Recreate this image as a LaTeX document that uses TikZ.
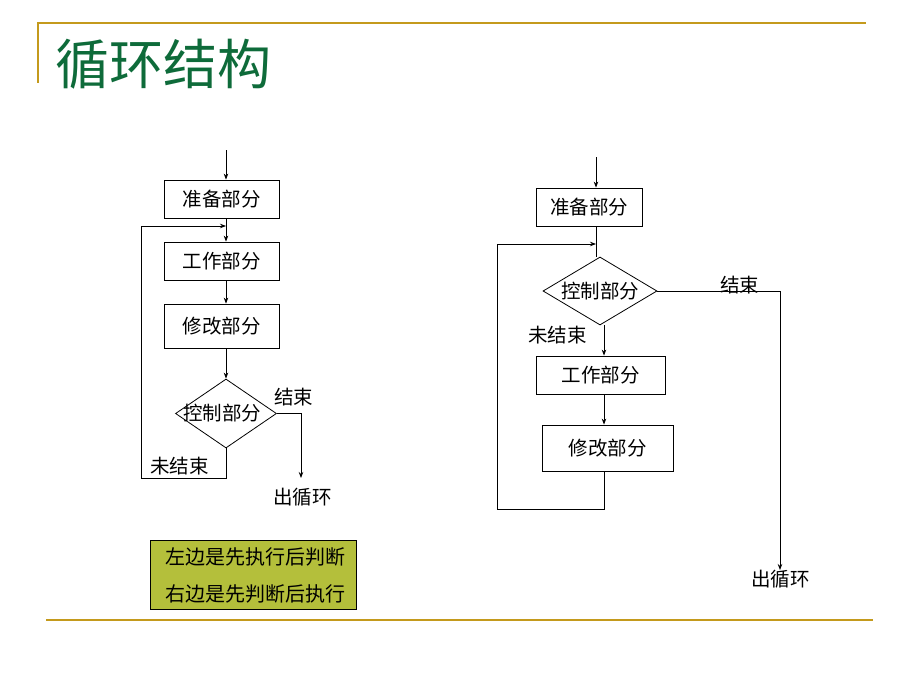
\documentclass[tikz,border=0pt]{standalone}
\usepackage{fontspec}
\setmainfont{Liberation Sans}
\newfontfamily\cjk{Noto Sans CJK SC}
\usetikzlibrary{shapes.geometric,arrows.meta}
\definecolor{gold}{HTML}{C49A1C}
\definecolor{titlegreen}{HTML}{0E6B3A}
\definecolor{olive}{HTML}{B4BF3B}
\tikzset{
  box/.style={draw=black, line width=0.8pt, fill=white, minimum height=38pt, inner sep=0pt, font=\cjk\fontsize{19.5}{22}\selectfont},
  dia/.style={draw=black, line width=0.8pt, diamond, inner sep=0pt, minimum width=101pt, minimum height=69pt},
  lbl/.style={font=\cjk\fontsize{19.5}{22}\selectfont, inner sep=0pt},
  ln/.style={line width=0.8pt},
  arr/.style={line width=0.8pt, -{Stealth[length=6pt,width=4.5pt]}},
  rule/.style={draw=gold, line width=2pt},
}
\begin{document}
\begin{tikzpicture}[x=1pt,y=-1pt]
\useasboundingbox (0,0) rectangle (920,690);
\fill[white] (0,0) rectangle (920,690);
% frame rules
\coordinate (r1) at (38,23);
\coordinate (r2) at (866,23);
\coordinate (r3) at (38,83);
\coordinate (r4) at (46,620);
\coordinate (r5) at (873,620);
\draw[rule] (r3) -- (r1) -- (r2);
\draw[rule] (r4) -- (r5);
\node[anchor=west, inner sep=0pt, text=titlegreen, font=\cjk\fontsize{54}{58}\selectfont] (title) at (55,64) {循环结构};

% ===== Left flowchart =====
\coordinate (a0) at (226,150);
\node[box, minimum width=115pt] (a1) at (221.5,199) {准备部分};
\coordinate (j1) at (226,226);
\node[box, minimum width=115pt] (a2) at (221.5,261) {工作部分};
\node[box, minimum width=115pt, minimum height=44pt] (a3) at (221.5,326) {修改部分};
\node[dia] (d1) at (226,413.5) {};
\node[lbl] (d1t) at (222,413.5) {控制部分};
\coordinate (e1) at (301,413.5);
\coordinate (x1) at (301,478);
\coordinate (b1) at (226,478);
\coordinate (b2) at (141,478);
\coordinate (b3) at (141,226);
\draw[arr] (a0) -- (a1.north -| a0);
\draw[ln] (a1.south -| a0) -- (j1);
\draw[arr] (j1) -- (a2.north -| a0);
\draw[arr] (a2.south -| a0) -- (a3.north -| a0);
\draw[arr] (a3.south -| a0) -- (d1.north);
\draw[arr] (d1.east) -- (e1) -- (x1);
\draw[arr] (d1.south) -- (b1) -- (b2) -- (b3) -- (j1);
\node[lbl, anchor=west] (l1) at (274,397) {结束};
\node[lbl, anchor=west] (l2) at (150,466) {未结束};
\node[lbl, anchor=west] (l3) at (273,497) {出循环};

% ===== Right flowchart =====
\coordinate (c0) at (596,157);
\node[box, minimum width=106pt] (b1r) at (589,207) {准备部分};
\coordinate (j2) at (596,244);
\node[dia, minimum width=114pt, minimum height=68pt] (d2) at (600,291) {};
\node[lbl] (d2t) at (d2) {控制部分};
\coordinate (k0) at (604,0);
\node[box, minimum width=129pt] (b2r) at (600.5,375) {工作部分};
\node[box, minimum width=131pt, minimum height=46pt] (b3r) at (607.5,448) {修改部分};
\coordinate (e2) at (780,291);
\coordinate (x2) at (780,570);
\coordinate (g1) at (604,509);
\coordinate (g2) at (497,509);
\coordinate (g3) at (497,244);
\draw[arr] (c0) -- (b1r.north -| c0);
\draw[ln] (b1r.south -| c0) -- (d2.north -| c0);
\draw[arr] (d2.east) -- (e2) -- (x2);
\draw[arr] (d2.south -| k0) -- (b2r.north -| k0);
\draw[arr] (b2r.south -| k0) -- (b3r.north -| k0);
\draw[arr] (b3r.south -| k0) -- (g1) -- (g2) -- (g3) -- (j2);
\node[lbl, anchor=west] (l4) at (720,285) {结束};
\node[lbl, anchor=west] (l5) at (528,335) {未结束};
\node[lbl, anchor=west] (l6) at (751,579) {出循环};

% ===== Legend =====
\node[draw=black, line width=0.8pt, fill=olive, minimum width=206pt, minimum height=69pt, inner sep=0pt] (lg) at (253,574.5) {};
\node[lbl, anchor=west, font=\cjk\fontsize{20}{22}\selectfont] (lg1) at (165,557) {左边是先执行后判断};
\node[lbl, anchor=west, font=\cjk\fontsize{20}{22}\selectfont] (lg2) at (165,594) {右边是先判断后执行};
\end{tikzpicture}
\end{document}
